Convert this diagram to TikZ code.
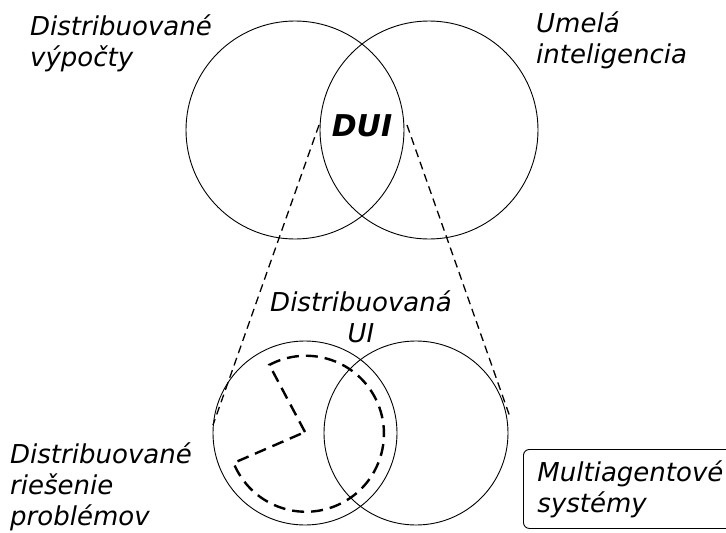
\documentclass[tikz,border=0pt]{standalone}
\usepackage{fontspec}
\setmainfont{DejaVu Sans}[
  BoldFont={DejaVu Sans Bold},
  ItalicFont={DejaVu Sans Oblique},
  BoldItalicFont={DejaVu Sans Bold Oblique}]
\begin{document}
\begin{tikzpicture}[x=1pt,y=-1pt,
  set/.style={circle,draw,line width=0.9pt,inner sep=0pt},
  bigset/.style={set,minimum size=218pt},
  smallset/.style={set,minimum size=184pt},
  label/.style={inner sep=0pt,align=left,font=\fontsize{26}{31}\selectfont\itshape},
  zoomline/.style={line width=1.3pt,dash pattern=on 8pt off 5pt},
  sector/.style={line width=2.4pt,dash pattern=on 12pt off 7pt,line join=miter}]
\useasboundingbox (0,0) rectangle (726,533);

% upper pair of sets and their intersection
\node[bigset] (dc) at (295,130) {};
\node[bigset] (ai) at (429,130) {};
\node[inner sep=0pt,font=\fontsize{30}{36}\selectfont\bfseries\itshape] (dui) at (362,126) {DUI};

\node[label,anchor=base west] (dclbl) at (30,66) {Distribuované\\výpočty};
\node[label,anchor=base west] (ailbl) at (536,63) {Umelá\\inteligencia};

% lower pair of sets
\node[smallset] (dps) at (305,433) {};
\node[smallset] (mas) at (416,433) {};

% zoom lines from the intersection down to the lower pair
\coordinate (zl1) at (319,125);
\coordinate (zl2) at (213,425);
\coordinate (zr1) at (407,125);
\coordinate (zr2) at (510,417);
\draw[zoomline] (zl1) -- (zl2);
\draw[zoomline] (zr1) -- (zr2);

% dashed sector inside the left lower set
\coordinate (sc) at (305,432);
\draw[sector] (sc) -- +(-118:76) arc[start angle=-118,end angle=158,radius=78] -- cycle;

\node[label,align=center,anchor=base] (dai) at (361,342) {Distribuovaná\\UI};
\node[label,anchor=base west] (dpslbl) at (10,525) {Distribuované\\riešenie\\problémov};

% framed label on the right
\node[label,draw,line width=0.9pt,rounded corners=6pt,anchor=north west,
      text width=220pt,inner xsep=14pt,minimum height=79pt] (maslbl) at (523,449)
      {Multiagentové\\systémy};
\end{tikzpicture}
\end{document}
